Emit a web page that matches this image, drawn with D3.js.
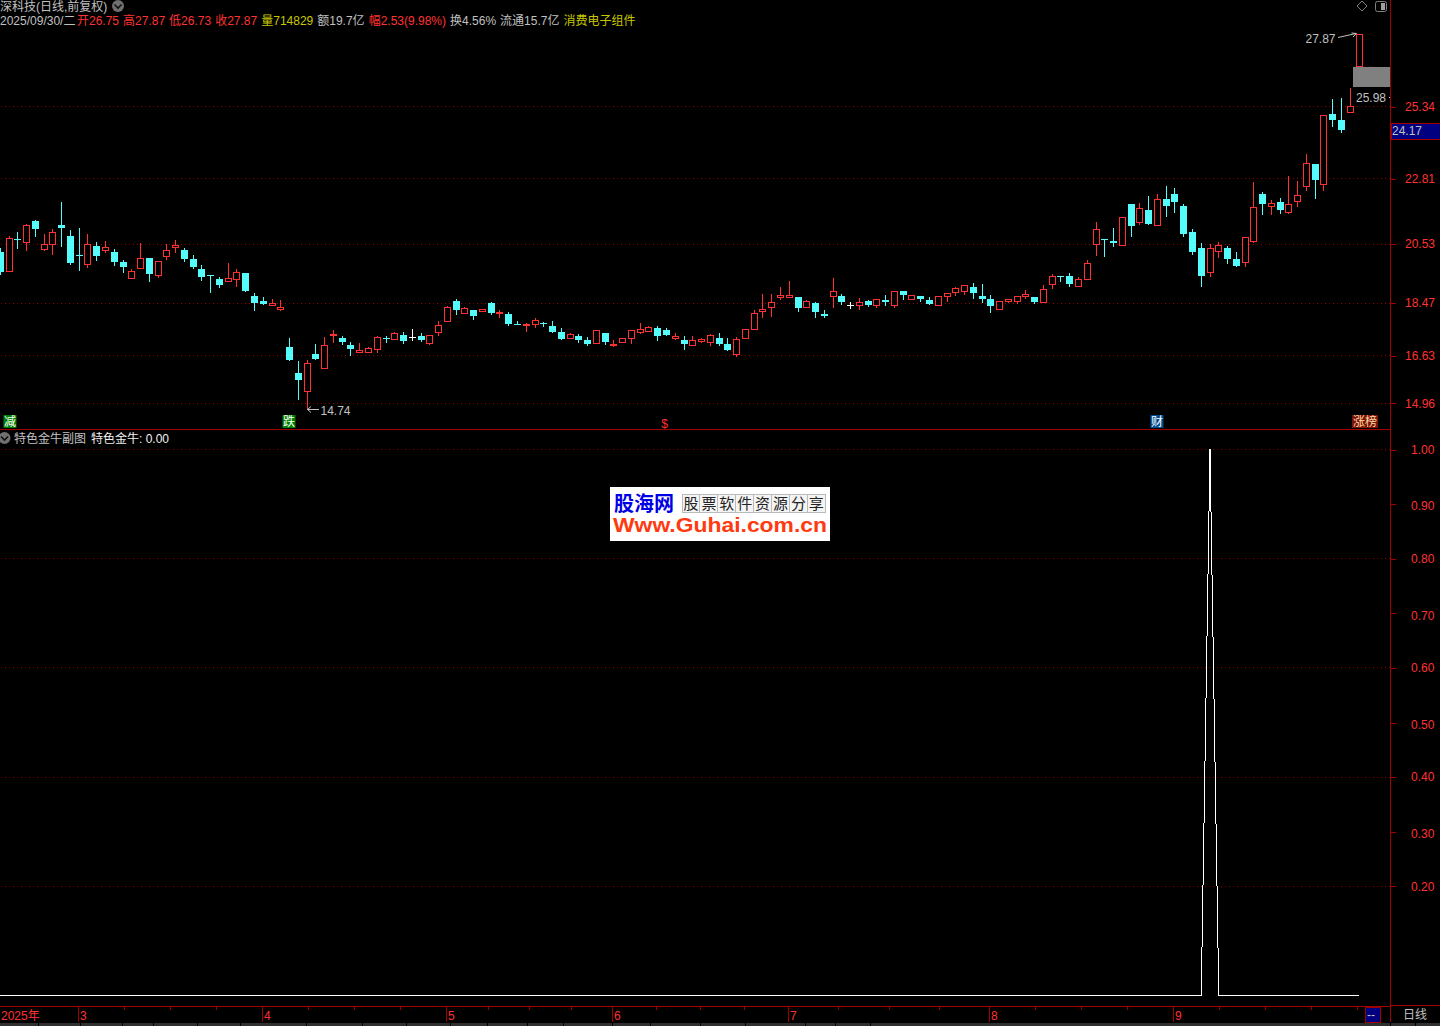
<!DOCTYPE html>
<html><head><meta charset="utf-8">
<style>
html,body{margin:0;padding:0;background:#000;overflow:hidden}
svg{display:block}
text{font-family:"Liberation Sans","Noto Sans CJK SC",sans-serif;font-size:12px}
</style>
<script src="https://cdn.jsdelivr.net/npm/d3@7"></script>
</head><body>
<svg id="c" width="1440" height="1026"></svg>
<script>
const opens=[
20.22,19.56,20.69,20.58,21.33,20.33,20.51,21.19,20.78,20.15,
19.81,20.43,20.30,20.25,19.90,19.32,19.67,20.04,19.42,20.09,
20.40,20.29,20.00,19.66,19.42,19.31,19.21,19.28,19.52,18.71,
18.53,18.40,18.26,16.93,16.01,15.36,16.68,16.17,17.32,17.24,
17.00,16.73,16.73,16.86,17.22,17.18,17.35,17.27,17.31,17.07,
17.43,17.81,18.54,18.09,18.22,18.16,18.47,18.10,18.08,17.73,
17.68,17.71,17.77,17.66,17.45,17.22,17.31,17.17,17.04,17.41,
16.98,17.08,17.22,17.45,17.49,17.59,17.52,17.24,17.17,16.97,
17.14,17.08,17.24,17.03,16.66,17.22,17.53,18.16,18.30,18.65,
18.65,18.67,18.30,18.47,18.08,18.69,18.71,18.39,18.40,18.54,
18.38,18.57,18.38,18.89,18.58,18.71,18.57,18.40,18.69,18.83,
18.86,19.03,18.71,18.60,18.23,18.51,18.51,18.69,18.67,18.48,
19.11,19.41,19.41,19.04,19.28,20.51,20.70,20.63,20.47,21.90,
21.28,21.72,21.17,22.10,22.28,21.83,20.92,20.36,19.53,20.26,
20.36,20.00,19.88,20.61,22.25,21.84,21.97,21.65,22.01,22.54,
23.30,22.61,25.05,24.84,25.12,26.75];
const closes=[
19.55,20.73,20.65,21.19,21.05,20.50,20.94,21.09,19.87,20.11,
20.52,20.11,20.41,19.90,19.73,19.57,20.03,19.48,19.92,20.31,
20.48,20.00,19.73,19.38,19.39,19.10,19.33,19.54,18.89,18.47,
18.43,18.47,18.33,16.47,15.77,16.37,16.50,17.00,17.38,17.10,
16.86,16.81,16.88,17.26,17.20,17.40,17.14,17.27,17.17,17.33,
17.68,18.31,18.22,18.28,18.01,18.25,18.12,18.15,17.73,17.71,
17.73,17.86,17.73,17.45,17.20,17.37,17.17,17.03,17.51,17.10,
17.03,17.23,17.51,17.54,17.61,17.31,17.35,17.31,17.03,17.16,
17.18,17.33,17.03,16.82,17.19,17.54,18.10,18.25,18.49,18.73,
18.73,18.29,18.52,18.15,18.01,18.87,18.50,18.39,18.49,18.40,
18.59,18.50,18.87,18.75,18.73,18.60,18.43,18.70,18.80,18.98,
19.08,18.82,18.60,18.36,18.52,18.59,18.70,18.77,18.50,18.94,
19.40,19.38,19.13,19.29,19.85,21.05,20.67,20.56,21.46,21.13,
21.78,21.23,22.09,21.86,21.97,20.88,20.25,19.41,20.38,20.48,
20.00,19.76,20.76,21.81,21.90,21.95,21.72,21.92,22.23,23.35,
22.77,25.03,24.87,24.49,25.35,27.87];
const highs=[
20.36,20.78,20.93,21.23,21.37,20.88,21.05,22.00,21.02,21.09,
20.88,20.60,20.63,20.34,19.97,19.66,20.56,20.04,19.94,20.53,
20.67,20.39,20.15,19.80,19.42,19.38,19.87,19.66,19.52,18.82,
18.67,18.61,18.57,17.24,16.44,16.47,17.03,17.28,17.52,17.31,
17.10,17.07,16.91,17.31,17.31,17.45,17.45,17.56,17.41,17.33,
17.84,18.36,18.60,18.33,18.22,18.25,18.50,18.22,18.15,17.84,
17.77,17.94,17.80,17.84,17.59,17.41,17.38,17.27,17.51,17.41,
17.17,17.23,17.51,17.77,17.65,17.66,17.59,17.41,17.31,17.31,
17.24,17.38,17.41,17.24,17.27,17.54,18.22,18.78,18.78,19.03,
19.24,18.67,18.57,18.50,18.22,19.34,18.78,18.50,18.64,18.57,
18.59,18.75,18.87,18.89,18.73,18.71,18.67,18.70,18.80,19.03,
19.08,19.17,19.13,18.75,18.52,18.59,18.70,18.92,18.67,19.10,
19.48,19.41,19.52,19.38,19.97,21.30,20.70,21.09,21.46,21.90,
21.96,22.18,22.25,22.53,22.49,21.93,21.05,20.56,20.53,20.60,
20.46,20.25,20.76,22.67,22.35,22.04,22.14,22.90,22.73,23.68,
23.30,25.03,25.60,25.64,25.98,27.87];
const lows=[
19.48,19.56,20.36,20.32,20.78,20.32,20.18,20.46,19.83,19.62,
19.73,19.97,20.25,19.80,19.55,19.32,19.67,19.23,19.38,20.00,
20.22,19.94,19.69,19.27,18.85,19.03,19.21,19.06,18.89,18.22,
18.43,18.40,18.22,16.47,15.11,14.74,16.50,16.17,17.10,17.03,
16.65,16.73,16.73,16.75,17.10,17.18,17.07,17.17,17.14,17.03,
17.35,17.81,18.08,18.09,17.90,18.16,18.08,17.97,17.70,17.71,
17.49,17.63,17.66,17.45,17.20,17.22,17.10,17.00,17.04,17.03,
16.96,17.08,17.06,17.41,17.49,17.17,17.35,17.20,16.86,16.97,
17.10,17.00,17.00,16.82,16.61,17.22,17.53,17.97,18.01,18.60,
18.65,18.19,18.30,17.97,17.97,18.33,18.43,18.29,18.26,18.36,
18.33,18.40,18.33,18.60,18.58,18.54,18.43,18.40,18.54,18.75,
18.78,18.64,18.50,18.15,18.23,18.49,18.47,18.64,18.47,18.48,
18.99,19.24,19.06,19.04,19.28,20.15,20.11,20.43,20.47,20.81,
21.23,21.23,21.17,21.48,21.65,20.78,20.18,19.06,19.41,20.07,
19.87,19.76,19.76,20.58,21.58,21.55,21.61,21.61,21.86,22.42,
22.14,22.42,24.66,24.42,25.12,26.75];
const golden=[
0,0,0,0,0,0,0,0,0,0, 0,0,0,0,0,0,0,0,0,0,
0,0,0,0,0,0,0,0,0,0, 0,0,0,0,0,0,0,0,0,0,
0,0,0,0,0,0,0,0,0,0, 0,0,0,0,0,0,0,0,0,0,
0,0,0,0,0,0,0,0,0,0, 0,0,0,0,0,0,0,0,0,0,
0,0,0,0,0,0,0,0,0,0, 0,0,0,0,0,0,0,0,0,0,
0,0,0,0,0,0,0,0,0,0, 0,0,0,0,0,0,0,0,0,0,
0,0,0,0,0,0,0,0,0,0, 0,0,0,0,0,0,0,0,1,0,
0,0,0,0,0,0,0,0,0,0, 0,0,0,0,0,0];
const priceTicks=[25.34,22.81,20.53,18.47,16.63,14.96];
const subTicks=[1,0.9,0.8,0.7,0.6,0.5,0.4,0.3,0.2];
const subGrid=[1,0.8,0.6,0.4,0.2];
const monthIndex=[9,30,51,70,90,113,134];
const monthLabel=["3","4","5","6","7","8","9"];
const yearLabel="2025年";
const titleText="深科技(日线,前复权)";
const quoteDate="2025/09/30/二";
const quoteParts=[
 ["开","r"],["26.75","r",1],["高","r"],["27.87","r",1],["低","r"],["26.73","r",1],
 ["收","r"],["27.87","r",1],["量","y"],["714829","y",1],["额","g"],["19.7亿","g",1],["幅","r"],
 ["2.53(9.98%)","r",1],["换","g"],["4.56%","g",1],["流通","g"],["15.7亿","g",1],["消费电子组件","y"]];
const signalText=["减","跌","财","涨榜"];
const signalIndex=[1.05,32.9,131.9,155.7];
const signalBack=["#008000","#008000","#004a90","#7a1408"];
const signalFore=["#fff","#fff","#fff","#ffd9a0"];

const RED="#ff3232",CYAN="#54fcfc",DARK="#a00000",GRID="#8c0000",GRAY="#c0c0c0";
const svg=d3.select("#c");
const W=1440,AX=1390;
const x=d3.scaleLinear().domain([0,155]).range([0.3,1359.03]);
const y=d3.scaleLinear().domain([25.34,14.96]).range([106.7,403.3]);
const ySub=d3.scaleLinear().domain([0,1]).range([995.5,449.5]);
const px=i=>Math.floor(x(i));
const py=p=>Math.floor(y(p));
const rows=opens.map((o,i)=>({i,o,h:highs[i],l:lows[i],c:closes[i],g:golden[i]}));

svg.append("rect").attr("width",W).attr("height",1026).attr("fill","#000");

// grids
const grid=svg.append("g").attr("stroke",GRID).attr("stroke-dasharray","1 3").attr("shape-rendering","crispEdges");
grid.selectAll(".m").data(priceTicks).join("line").attr("class","m")
 .attr("x1",1).attr("x2",AX).attr("y1",d=>py(d)+.5).attr("y2",d=>py(d)+.5);
grid.selectAll(".s").data(subGrid).join("line").attr("class","s")
 .attr("x1",1).attr("x2",AX).attr("y1",d=>Math.floor(ySub(d))+.5).attr("y2",d=>Math.floor(ySub(d))+.5);

// grey block sits behind the last candle
svg.append("rect").attr("x",1353).attr("y",67).attr("width",37).attr("height",20).attr("fill","#808080");

// candles
const col=d=>d.c>d.o?RED:d.c<d.o?CYAN:"#fff";
const cg=svg.append("g").attr("shape-rendering","crispEdges");
const cand=cg.selectAll("g").data(rows).join("g");
cand.append("line")
 .attr("x1",d=>px(d.i)+.5).attr("x2",d=>px(d.i)+.5)
 .attr("y1",d=>py(d.h)).attr("y2",d=>py(d.l)+1)
 .attr("stroke",col);
cand.each(function(d){
 const g=d3.select(this),t=py(Math.max(d.o,d.c)),b=py(Math.min(d.o,d.c)),cx=px(d.i);
 if(d.c>d.o){
  g.append("rect").attr("x",cx-2.5).attr("width",6).attr("y",t+.5).attr("height",Math.max(b-t,1))
   .attr("fill","#000").attr("stroke",RED);
 }else if(d.c<d.o){
  g.append("rect").attr("x",cx-3).attr("width",7).attr("y",t).attr("height",Math.max(b-t,1)).attr("fill",CYAN);
 }else{
  g.append("rect").attr("x",cx-3).attr("width",7).attr("y",t).attr("height",1).attr("fill","#fff");
 }
});

// sub line
svg.append("path").datum(rows)
 .attr("d",d3.line().x(d=>x(d.i)).y(d=>ySub(d.g)))
 .attr("fill","none").attr("stroke","#fff").attr("stroke-width",1).attr("shape-rendering","crispEdges");
svg.append("line").attr("x1",0).attr("x2",x(0)+1).attr("y1",995.5).attr("y2",995.5).attr("stroke","#fff").attr("shape-rendering","crispEdges");

// frame
const fr=svg.append("g").attr("stroke",DARK).attr("shape-rendering","crispEdges");
fr.append("line").attr("x1",0).attr("x2",AX).attr("y1",429.5).attr("y2",429.5);
fr.append("line").attr("x1",AX+.5).attr("x2",AX+.5).attr("y1",0).attr("y2",1022).attr("stroke-width",1.6);
fr.append("line").attr("x1",0).attr("x2",AX).attr("y1",1006.5).attr("y2",1006.5);
fr.append("line").attr("x1",AX).attr("x2",W).attr("y1",1005.5).attr("y2",1005.5).attr("stroke-width",1.6);

// right axes
const styleAxis=g=>{g.select(".domain").remove();
 g.selectAll(".tick line").attr("stroke",DARK).attr("shape-rendering","crispEdges");
 g.selectAll(".tick text").attr("fill",RED).style("font-family",'"Liberation Sans",sans-serif').style("font-size","12px");};
svg.append("g").attr("transform",`translate(${AX+1},0)`)
 .call(d3.axisRight(y).tickValues(priceTicks).tickSize(5).tickPadding(9).tickFormat(d3.format(".2f")))
 .call(styleAxis);
const subAx=svg.append("g").attr("transform",`translate(${AX+1},0)`)
 .call(d3.axisRight(ySub).tickValues(subTicks).tickSize(5).tickPadding(15).tickFormat(d3.format(".2f")))
 .call(styleAxis);
subAx.selectAll(".tick text").attr("transform",d=>subGrid.includes(d)?null:"translate(0,2)");

// current price box
svg.append("rect").attr("x",AX+1).attr("y",123.5).attr("width",W-AX).attr("height",16).attr("fill","#000080").attr("stroke",DARK).attr("shape-rendering","crispEdges");
svg.append("text").attr("x",1392).attr("y",135).attr("fill",GRAY).text("24.17");

// price callouts
svg.append("text").attr("x",1356).attr("y",101.5).attr("fill",GRAY).text("25.98");
svg.append("rect").attr("x",1389).attr("y",97).attr("width",1).attr("height",1).attr("fill",GRAY);
svg.append("text").attr("x",1305.5).attr("y",43).attr("fill",GRAY).text("27.87");
svg.append("path").attr("d","M1338 37.5L1356 33.5M1351.5 33L1356.5 33.5L1353 37").attr("fill","none").attr("stroke",GRAY);
svg.append("text").attr("x",320.5).attr("y",414.5).attr("fill",GRAY).text("14.74");
svg.append("path").attr("d","M319 409.5H307.5M311 406.5L307.5 409.5L311 412.5").attr("fill","none").attr("stroke",GRAY);

// header
svg.append("text").attr("x",0).attr("y",10.5).attr("fill",GRAY).text(titleText);
svg.append("text").attr("x",0).attr("y",24.5).attr("fill",GRAY).text(quoteDate);
const qc={g:GRAY,r:RED,y:"#c8c800"};
let qx=73;
quoteParts.forEach(p=>{
 if(p[2]!==1)qx+=4;
 const t=svg.append("text").attr("x",qx).attr("y",24.5).attr("fill",qc[p[1]]).text(p[0]);
 qx+=t.node().getComputedTextLength();
});
const chevron=(cx,cy,r)=>{
 svg.append("circle").attr("cx",cx).attr("cy",cy).attr("r",r).attr("fill","#707070");
 svg.append("path").attr("d",`M${cx-3.5} ${cy-1.5}L${cx} ${cy+2}L${cx+3.5} ${cy-1.5}`).attr("fill","none").attr("stroke","#111").attr("stroke-width",1.6);
};
chevron(118,6,6);
chevron(4.5,438,6);
svg.append("text").attr("x",14).attr("y",442.5).attr("fill",GRAY).text("特色金牛副图");
svg.append("text").attr("x",91).attr("y",442.5).attr("fill","#f0f0f0").text("特色金牛: 0.00");

// top-right icons
svg.append("path").attr("d","M1362 1L1367 6L1362 11L1357 6Z").attr("fill","none").attr("stroke","#808080");
svg.append("rect").attr("x",1375.5).attr("y",1.5).attr("width",11).attr("height",10).attr("rx",2).attr("fill","none").attr("stroke","#808080");
svg.append("rect").attr("x",1381).attr("y",3).attr("width",4).attr("height",7).attr("fill","#a0a0a0");

// signal tags
signalText.forEach((t,k)=>{
 const w=t.length*13, cx=Math.round(x(signalIndex[k]));
 svg.append("rect").attr("x",cx-w/2).attr("y",415).attr("width",w).attr("height",13).attr("fill",signalBack[k]);
 svg.append("text").attr("x",cx).attr("y",426).attr("text-anchor","middle").attr("fill",signalFore[k]).text(t);
});
svg.append("text").attr("x",664.5).attr("y",427.5).attr("text-anchor","middle").attr("fill",RED).text("$");

// watermark
const wm=svg.append("g");
wm.append("rect").attr("x",610).attr("y",487).attr("width",220).attr("height",54).attr("fill","#fff");
wm.append("text").attr("x",614).attr("y",510.5).attr("fill","#0000e6").attr("font-weight","bold").style("font-size","20px").text("股海网");
const cellChars="股票软件资源分享".split("");
wm.selectAll(".cell").data(cellChars).join("rect").attr("class","cell")
 .attr("x",(d,i)=>682+i*17.9).attr("y",494).attr("width",17.9).attr("height",18)
 .attr("fill","#f4f4f4").attr("stroke","#bbb").attr("shape-rendering","crispEdges");
wm.selectAll(".ct").data(cellChars).join("text").attr("class","ct")
 .attr("x",(d,i)=>691+i*17.9).attr("y",509).attr("text-anchor","middle").attr("fill","#222")
 .style("font-size","15px").text(d=>d);
wm.append("text").attr("x",613).attr("y",532).attr("fill","#ff3a10").attr("font-weight","bold")
 .attr("textLength",214).attr("lengthAdjust","spacingAndGlyphs").style("font-size","19.5px").text("Www.Guhai.com.cn");

// time axis
const tg=svg.append("g").attr("stroke",DARK).attr("shape-rendering","crispEdges");
const tickX=monthIndex.map(i=>px(i)-1);
tg.selectAll(".maj").data(tickX).join("line").attr("class","maj")
 .attr("x1",d=>d+.5).attr("x2",d=>d+.5).attr("y1",1007).attr("y2",1022);
const minors=d3.range(tickX.length).flatMap(k=>{
 const a=tickX[k],b=k+1<tickX.length?tickX[k+1]:null;
 const step=b?(b-a)/4:46;
 return (b?[1,2,3]:[1,2,3,4]).map(n=>Math.round(a+n*step));
});
tg.selectAll(".min").data(minors.filter(d=>d<1360)).join("line").attr("class","min")
 .attr("x1",d=>d+.5).attr("x2",d=>d+.5).attr("y1",1007).attr("y2",1010);
svg.selectAll(".ml").data(monthLabel).join("text").attr("class","ml")
 .attr("x",(d,k)=>tickX[k]+2).attr("y",1019.5).attr("fill",RED).text(d=>d);
svg.append("text").attr("x",1).attr("y",1019.5).attr("fill",RED).text(yearLabel);

// end marker and period
svg.append("rect").attr("x",1365.5).attr("y",1007.5).attr("width",15).attr("height",15).attr("fill","#000080").attr("stroke",DARK).attr("shape-rendering","crispEdges");
svg.append("text").attr("x",1367).attr("y",1018.5).attr("fill",GRAY).text("--");
svg.append("text").attr("x",1415).attr("y",1018.5).attr("text-anchor","middle").attr("fill",GRAY).text("日线");

// bottom tab strip
svg.append("rect").attr("x",0).attr("y",1023).attr("width",W).attr("height",3).attr("fill","#303030");
const tabEdges=[38,80,122,153,197,240,306,362,406,450,487,527,563,612,650,700,745,805,835,870,1390,1415];
svg.selectAll(".te").data(tabEdges).join("rect").attr("class","te")
 .attr("x",d=>d).attr("y",1023).attr("width",1).attr("height",3).attr("fill","#000");
</script>
</body></html>
